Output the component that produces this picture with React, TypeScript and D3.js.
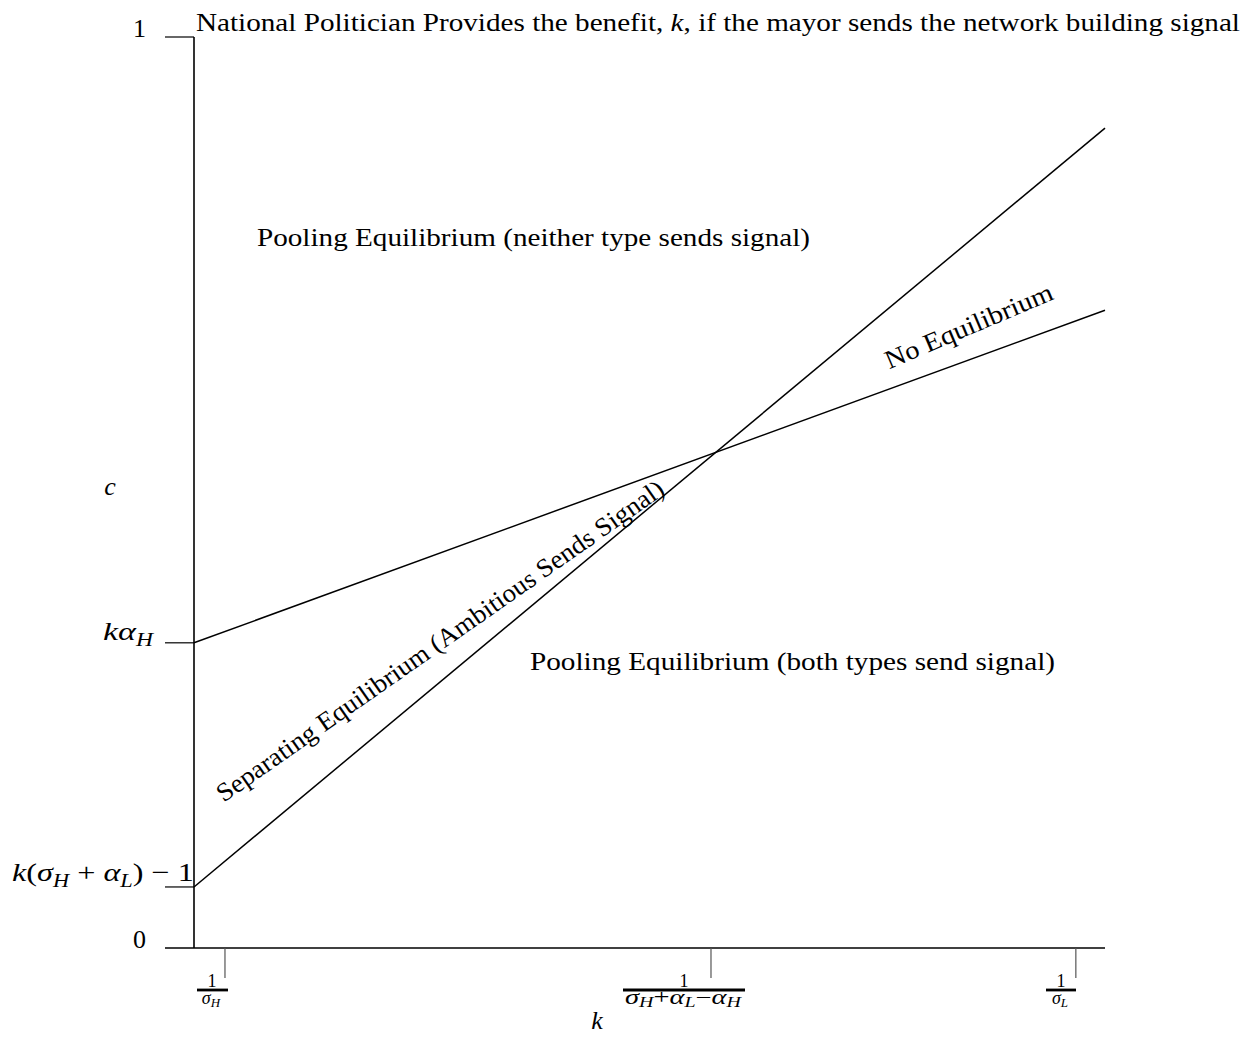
import React from 'react'
import * as d3 from 'd3'

// boundaries of the regions, in (k, c) units
const separatingLine = [
  { k: 0, c: 0.067 },
  { k: 1, c: 0.9 },
]
const noEquilibriumLine = [
  { k: 0, c: 0.335 },
  { k: 1, c: 0.7 },
]
const yTickValues = [0.067, 0.335, 1]
const xTickValues = [0.034, 0.5675, 0.968]

const title = 'National Politician Provides the benefit, '
const titleEnd = ', if the mayor sends the network building signal'

const W = 1258
const H = 1040
const FONT = '"Liberation Serif", "DejaVu Serif", serif'

function App() {
  const x = d3.scaleLinear().domain([0, 1]).range([194, 1105])
  const y = d3.scaleLinear().domain([0, 1]).range([948, 37])

  const line = d3
    .line<{ k: number; c: number }>()
    .x((d) => x(d.k))
    .y((d) => y(d.c))

  const sub = (s: string, size = 18, dy = 6) => (
    <tspan fontSize={size} dy={dy} fontStyle="italic">
      {s}
    </tspan>
  )

  const fracY = y(0) + 42

  return (
    <svg width={W} height={H} style={{ position: 'absolute', left: 0, top: 0 }} fontFamily={FONT}>
      <rect width={W} height={H} fill="white" />

      {/* axes */}
      <line x1={x(0)} y1={y(0)} x2={x(0)} y2={y(1)} stroke="black" strokeWidth={1.6} />
      <line x1={165} y1={y(0)} x2={x(1)} y2={y(0)} stroke="black" strokeWidth={1.6} />
      {yTickValues.map((v) => (
        <line key={v} x1={165} y1={y(v)} x2={x(0)} y2={y(v)} stroke="black" strokeWidth={1.2} />
      ))}
      {xTickValues.map((v) => (
        <line key={v} x1={x(v)} y1={y(0)} x2={x(v)} y2={y(0) + 30} stroke="#555" strokeWidth={1.2} />
      ))}

      {/* boundaries */}
      <path d={line(separatingLine) ?? ''} fill="none" stroke="black" strokeWidth={1.5} />
      <path d={line(noEquilibriumLine) ?? ''} fill="none" stroke="black" strokeWidth={1.5} />

      {/* y labels */}
      <g fontSize={26}>
        <text x={146} y={y(1)} textAnchor="end">1</text>
        <text x={146} y={y(0)} textAnchor="end">0</text>
        <text x={110} y={y(0.5) + 2} textAnchor="middle" fontStyle="italic">c</text>
        <text x={103} y={y(yTickValues[1]) - 3} textLength={50} lengthAdjust="spacingAndGlyphs">
          <tspan fontStyle="italic">kα</tspan>
          {sub('H')}
        </text>
        <text x={12} y={y(yTickValues[0]) - 6} textLength={182} lengthAdjust="spacingAndGlyphs">
          <tspan fontStyle="italic">k</tspan>(<tspan fontStyle="italic">σ</tspan>
          {sub('H')}
          <tspan dy={-6}> + </tspan>
          <tspan fontStyle="italic">α</tspan>
          {sub('L')}
          <tspan dy={-6}>) − 1</tspan>
        </text>
      </g>

      {/* x labels as fractions */}
      <g fontSize={18}>
        <text x={212} y={fracY - 3} textAnchor="middle">1</text>
        <line x1={197} x2={228} y1={fracY} y2={fracY} stroke="black" strokeWidth={2.8} />
        <text x={211} y={fracY + 14} textAnchor="middle" fontStyle="italic">
          σ<tspan fontSize={13} dy={3}>H</tspan>
        </text>

        <text x={684} y={fracY - 3} textAnchor="middle">1</text>
        <line x1={623} x2={745} y1={fracY} y2={fracY} stroke="black" strokeWidth={2.8} />
        <text
          x={683}
          y={fracY + 14}
          fontSize={20}
          textAnchor="middle"
          textLength={116}
          lengthAdjust="spacingAndGlyphs"
        >
          <tspan fontStyle="italic">σ</tspan>
          <tspan fontSize={14} dy={3} fontStyle="italic">H</tspan>
          <tspan dy={-3}>+</tspan>
          <tspan fontStyle="italic">α</tspan>
          <tspan fontSize={14} dy={3} fontStyle="italic">L</tspan>
          <tspan dy={-3}>−</tspan>
          <tspan fontStyle="italic">α</tspan>
          <tspan fontSize={14} dy={3} fontStyle="italic">H</tspan>
        </text>

        <text x={1061} y={fracY - 3} textAnchor="middle">1</text>
        <line x1={1046} x2={1076} y1={fracY} y2={fracY} stroke="black" strokeWidth={2.8} />
        <text x={1060} y={fracY + 14} textAnchor="middle" fontStyle="italic">
          σ<tspan fontSize={13} dy={3}>L</tspan>
        </text>
      </g>
      <text x={597} y={1029} fontSize={26} textAnchor="middle" fontStyle="italic">k</text>

      {/* title and region labels */}
      <g fontSize={26}>
        <text x={196} y={31} textLength={1044} lengthAdjust="spacingAndGlyphs">
          {title}
          <tspan fontStyle="italic">k</tspan>
          {titleEnd}
        </text>
        <text x={257} y={246} textLength={553} lengthAdjust="spacingAndGlyphs">
          Pooling Equilibrium (neither type sends signal)
        </text>
        <text x={530} y={670} textLength={525} lengthAdjust="spacingAndGlyphs">
          Pooling Equilibrium (both types send signal)
        </text>
        <text
          transform="translate(972,334) rotate(-23)"
          textAnchor="middle"
          textLength={180}
          lengthAdjust="spacingAndGlyphs"
        >
          No Equilibrium
        </text>
        <text
          transform="translate(445,648) rotate(-35)"
          textAnchor="middle"
          textLength={540}
          lengthAdjust="spacingAndGlyphs"
        >
          Separating Equilibrium (Ambitious Sends Signal)
        </text>
      </g>
    </svg>
  )
}

export default App
